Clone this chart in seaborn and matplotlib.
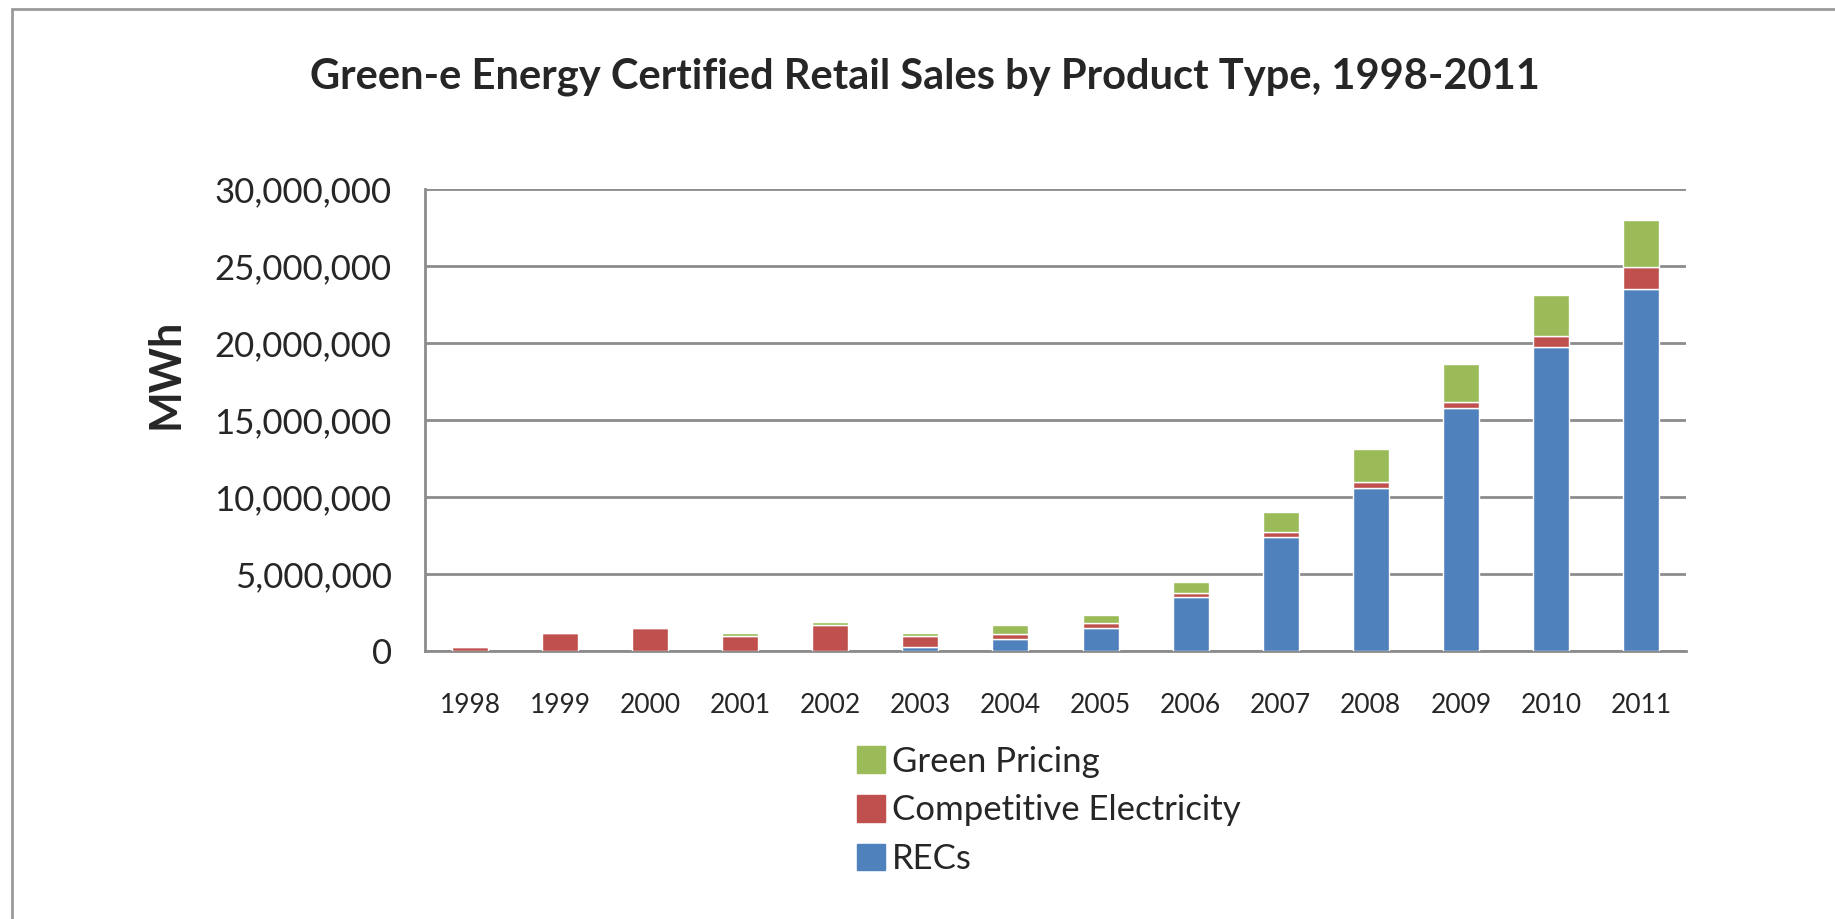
import matplotlib
matplotlib.use("Agg")
import matplotlib.pyplot as plt
import matplotlib.ticker as mticker
from matplotlib.patches import Rectangle, Patch
import seaborn as sns
import pandas as pd

# values (MWh)
years = ["1998", "1999", "2000", "2001", "2002", "2003", "2004",
         "2005", "2006", "2007", "2008", "2009", "2010", "2011"]
recs = [0, 0, 0, 0, 0, 260000, 760000,
        1480000, 3480000, 7390000, 10590000, 15780000, 19720000, 23520000]
competitive = [280000, 1150000, 1520000, 970000, 1670000, 710000, 370000,
               350000, 320000, 370000, 370000, 390000, 760000, 1410000]
green_pricing = [0, 0, 0, 180000, 190000, 180000, 540000,
                 540000, 700000, 1240000, 2170000, 2500000, 2650000, 3030000]

colors = {"RECs": "#4F81BD", "Competitive Electricity": "#C0504D", "Green Pricing": "#9BBB59"}

sns.set_style("white")
plt.rcParams['font.family'] = ['Lato', 'DejaVu Sans']

df = pd.DataFrame({"Year": years, "RECs": recs,
                   "Competitive Electricity": competitive,
                   "Green Pricing": green_pricing})
df["bottom_green"] = df["RECs"] + df["Competitive Electricity"]

fig = plt.figure(figsize=(18.35, 9.19), dpi=100)
ax = fig.add_axes([0.2316, 0.2916, 0.6872, 0.5027])

sns.barplot(data=df, x="Year", y="RECs", color=colors["RECs"], width=0.4,
            saturation=1, ax=ax, zorder=3)
sns.barplot(data=df, x="Year", y="Competitive Electricity", color=colors["Competitive Electricity"],
            width=0.4, saturation=1, bottom=df["RECs"], ax=ax, zorder=3)
sns.barplot(data=df, x="Year", y="Green Pricing", color=colors["Green Pricing"],
            width=0.4, saturation=1, bottom=df["bottom_green"], ax=ax, zorder=3)

ax.set_ylim(0, 30000000)
ax.set_xlim(-0.5, len(years) - 0.5)
ax.yaxis.set_major_locator(mticker.MultipleLocator(5000000))
ax.yaxis.set_major_formatter(mticker.FuncFormatter(lambda v, p: f"{int(v):,}"))
ax.grid(axis="y", color="#8c8c8c", linewidth=2, zorder=0)
ax.set_axisbelow(True)

for s in ["top", "right"]:
    ax.spines[s].set_visible(False)
for s in ["left", "bottom"]:
    ax.spines[s].set_color("#8c8c8c")
    ax.spines[s].set_linewidth(2)

# category ticks sit between the bars
ax.set_xticks([i - 0.5 for i in range(len(years) + 1)], minor=False)
ax.set_xticklabels([])
ax.set_xticks(range(len(years)), minor=True)
ax.set_xticklabels(years, minor=True)
ax.tick_params(axis="x", which="major", direction="out", length=12, width=2, color="#8c8c8c")
ax.tick_params(axis="x", which="minor", length=0, pad=30, labelsize=19)
ax.tick_params(axis="y", direction="out", length=12, width=2, color="#8c8c8c", labelsize=25, pad=12)

ax.set_xlabel("")
ax.set_ylabel("MWh", fontsize=31, fontweight="bold")
ax.yaxis.set_label_coords(-0.19, 0.6)

fig.text(0.504, 0.917, "Green-e Energy Certified Retail Sales by Product Type, 1998-2011",
         ha="center", va="center", fontsize=30, fontweight="bold")

handles = [Patch(color=colors[k]) for k in ["Green Pricing", "Competitive Electricity", "RECs"]]
fig.legend(handles, ["Green Pricing", "Competitive Electricity", "RECs"],
           loc="upper left", bbox_to_anchor=(0.454, 0.215), frameon=False,
           fontsize=25, handlelength=0.8, handleheight=0.8, handletextpad=0.2,
           labelspacing=0.48, borderpad=0.2)

# chart area border
fig.add_artist(Rectangle((0.0065, -0.01), 1.1, 1.0, transform=fig.transFigure,
                         fill=False, edgecolor="#9a9a9a", linewidth=2))

fig.savefig("out.png", dpi=100)
